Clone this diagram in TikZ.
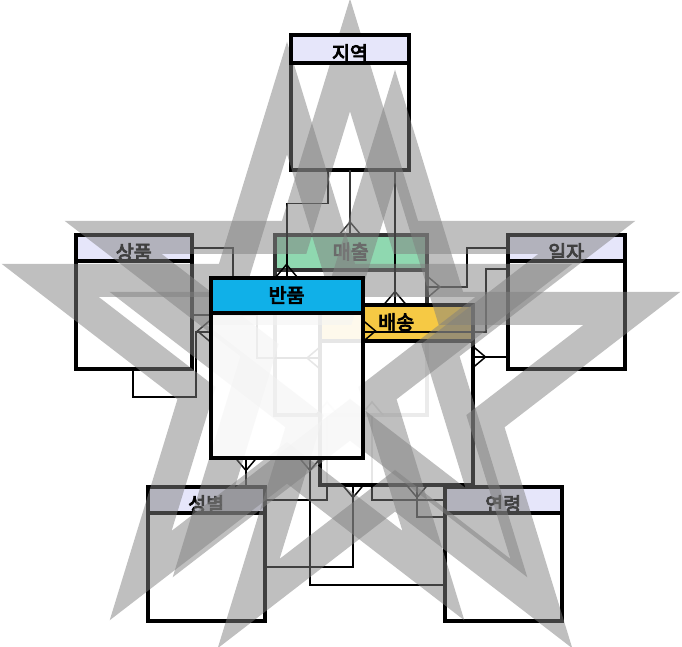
\documentclass[tikz,border=0pt]{standalone}
\usepackage{fontspec}
\newfontfamily\kfont{Noto Sans CJK KR}[FakeBold=4.5]
\usetikzlibrary{calc}
\definecolor{headlav}{HTML}{E6E6FA}
\definecolor{headsales}{HTML}{8FD8B0}
\definecolor{headreturn}{HTML}{10B0E8}
\definecolor{headship}{HTML}{F6C944}
\definecolor{dimline}{HTML}{333333}
\definecolor{dimtext}{HTML}{555555}

\tikzset{
  entity/.style={draw=black, line width=4pt, fill=white, inner sep=0pt, outer sep=0pt, anchor=north west},
  headtext/.style={font=\kfont\fontsize{19.5}{19.5}\selectfont, inner sep=0pt, anchor=base},
  link/.style={line width=1.5pt, black},
  starband/.style={draw=gray, draw opacity=0.5, line width=33pt, line join=miter},
}

% entity: [body style] name, x, y, width, height, header height, header colour, title
\newcommand{\entbox}[9][]{%
  \node[entity, minimum width=#5pt, minimum height=#6pt, #1] (#2) at (#3,#4) {};
  \fill[#8] (#2.north west) rectangle ([yshift=-#7pt]#2.north east);
  \node[headtext] (#2-title) at ([yshift=-25pt]#2.north) {#9};
  \draw[line width=4pt] (#2.north west) rectangle ([yshift=-#7pt]#2.north east);
}
% thick star outline round (cx,cy)
\newcommand{\starring}[2]{%
  \draw[starband, shift={(#1,#2)}] (-90:249 and 264)
    \foreach \k in {1,...,4} { -- ({-126+72*\k}:95.1 and 100.8) -- ({-90+72*\k}:249 and 264) }
    -- (234:95.1 and 100.8) -- cycle;
}

\begin{document}
\begin{tikzpicture}[x=1pt,y=-1pt]
  \useasboundingbox (0,0) rectangle (682,647);
  \clip (0,0) rectangle (682,647);

  % fact table in the middle
  \node[entity, draw=dimline, minimum width=152.5pt, minimum height=180pt] (maechul) at (274.5,235) {};
  \fill[headsales] (maechul.north west) rectangle ([yshift=-35pt]maechul.north east);
  \node[headtext, text=dimtext] (maechul-title) at ([yshift=-24pt]maechul.north) {매출};
  \draw[line width=4pt, draw=dimline] (maechul.north west) rectangle ([yshift=-35pt]maechul.north east);

  % dimension tables
  \entbox{jiyeok}{291}{35.5}{118}{135}{27.5}{headlav}{지역}
  \entbox{sangpum}{75.5}{234.5}{116.5}{134.5}{26}{headlav}{상품}
  \entbox{ilja}{507.5}{234.5}{117.5}{134.5}{26.5}{headlav}{일자}
  \entbox{seongbyeol}{148}{486.5}{116.5}{134.5}{26.5}{headlav}{성별}
  \entbox{yeonryeong}{444.5}{486.5}{117.5}{134.5}{26.5}{headlav}{연령}

  % links into the fact table
  \draw[link, dimline] ([xshift=59pt]jiyeok.south west) -- ([xshift=75.5pt]maechul.north west);
  \draw[link, dimline] ([xshift=64.5pt]maechul.north west) -- ++(11,-13) -- ++(11,13);
  \draw[link] ([yshift=-13.5pt]sangpum.north east) -- ++(41,0) |- ([yshift=-52pt]maechul.north west);
  \draw[link, dimline] ([yshift=-41pt]maechul.north west) -- ++(-13,11) -- ++(13,11);
  \draw[link] ([yshift=-13.5pt]ilja.north west) -- ++(-40.5,0) |- ([yshift=-52pt]maechul.north east);
  \draw[link, dimline] ([yshift=-41pt]maechul.north east) -- ++(13,11) -- ++(-13,11);
  \draw[link] ([yshift=-13.5pt]seongbyeol.north east) -| ([xshift=52.5pt]maechul.south west);
  \draw[link] ([xshift=41.5pt]maechul.south west) -- ++(11,-13) -- ++(11,13);
  \draw[link] ([yshift=-13.5pt]yeonryeong.north west) -| ([xshift=97.5pt]maechul.south west);
  \draw[link] ([xshift=86.5pt]maechul.south west) -- ++(11,-13) -- ++(11,13);

  % shipping
  \entbox[fill opacity=0.9]{baesong}{320}{304.5}{152.5}{180}{36}{headship}{배송}

  % links to returns and shipping
  \draw[link] ([xshift=37pt]jiyeok.south west) -- ++(0,33) -| (287,277.5);
  \draw[link] (275.5,277.5) -- ++(11,-13) -- ++(11,13);
  \draw[link] ([xshift=104pt]jiyeok.south west) -- ([xshift=75pt]baesong.north west);
  \draw[link] ([xshift=64pt]baesong.north west) -- ++(11,-13) -- ++(11,13);
  \draw[link] ([yshift=-80.5pt]sangpum.north east) -- ++(65,0) |- ([yshift=-53.5pt]baesong.north west);
  \draw[link] ([yshift=-42.5pt]baesong.north west) -- ++(-13,11) -- ++(13,11);
  \draw[link] ([xshift=57.5pt]sangpum.south west) -- ++(0,28) -| ++(63,-65) -- (210.5,332);
  \draw[link] (210.5,320) -- ++(-13,11) -- ++(13,11);
  \draw[link] ([yshift=-34.5pt]ilja.north west) -- ++(-21.5,0) |- (362.5,332);
  \draw[link] (362.5,320) -- ++(13,11) -- ++(-13,11);
  \draw[link] ([yshift=-122.5pt]ilja.north west) -- ([yshift=-52.5pt]baesong.north east);
  \draw[link] ([yshift=-41.5pt]baesong.north east) -- ++(13,11) -- ++(-13,11);
  \draw[link] (246,457.5) -- ([xshift=98pt]seongbyeol.north west);
  \draw[link] (235,457.5) -- ++(11,13) -- ++(11,-13);
  \draw[link] (310,457.5) |- ([yshift=-98.5pt]yeonryeong.north west);
  \draw[link] (299,457.5) -- ++(11,13) -- ++(11,-13);
  \draw[link] ([xshift=33pt]baesong.south west) |- ([yshift=-80.5pt]seongbyeol.north east);
  \draw[link] ([xshift=22pt]baesong.south west) -- ++(11,13) -- ++(11,-13);
  \draw[link] ([xshift=97pt]baesong.south west) |- ([yshift=-30.5pt]yeonryeong.north west);
  \draw[link] ([xshift=86pt]baesong.south west) -- ++(11,13) -- ++(11,-13);

  % three grey stars laid over the diagram
  \starring{350}{319}
  \starring{287}{362}
  \starring{395}{390}

  % header of the region table stays clear
  \fill[headlav] (jiyeok.north west) rectangle ([yshift=-27.5pt]jiyeok.north east);
  \node[headtext] at (jiyeok-title.base) {지역};
  \draw[line width=4pt] (jiyeok.north west) rectangle ([yshift=-27.5pt]jiyeok.north east);

  % returns, on top
  \entbox[fill opacity=0.9]{banpum}{210.5}{277.5}{152}{180}{35.5}{headreturn}{반품}
\end{tikzpicture}
\end{document}
